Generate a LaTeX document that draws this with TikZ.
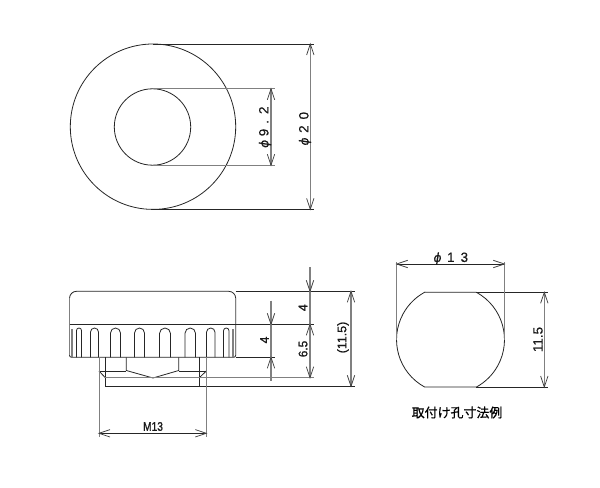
\documentclass[tikz,border=0pt]{standalone}
\usepackage{fontspec}
\setmainfont[FakeBold=0.5]{Liberation Sans}
\newfontfamily\cjk[FakeBold=0.6]{Noto Sans CJK JP}
\newfontfamily\heavy[FakeBold=1.2]{Liberation Sans}
\newfontfamily\phifont[FakeBold=0.6,FakeSlant=0.15]{DejaVu Sans}
\usetikzlibrary{arrows.meta}
\definecolor{gl}{gray}{0.5}
\tikzset{x=1bp,y=-1bp,
 edge/.style={line width=0.8bp,black!85},
 ext/.style={line width=0.8bp,gl},
 dimline/.style={line width=1.1bp,gl},
 tip/.style={line width=0.75bp,black!75},
 dimtext/.style={font=\fontsize{13.5}{13.5}\selectfont,inner sep=0pt,text=black!90},
 boldtext/.style={font=\fontsize{12.5}{12.5}\selectfont\heavy,inner sep=0pt,text=black!90},
}
\newcommand{\arrowv}[3]{\draw[tip] (#1-3.7,#2+#3*11)--(#1,#2)--(#1+3.7,#2+#3*11);}
\newcommand{\arrowh}[3]{\draw[tip] (#1+#3*11,#2-3.7)--(#1,#2)--(#1+#3*11,#2+3.7);}
\newcommand{\flute}[2]{\draw[edge] (#1,357.3)--(#1,{328+(#2-#1)/2}) arc[start angle=180,end angle=360,radius={(#2-#1)/2}]--(#2,357.3);}
\newcommand{\phisym}{{\fontsize{12.5}{12.5}\selectfont\phifont ϕ}}
\begin{document}
\begin{tikzpicture}
\useasboundingbox (0,0) rectangle (600,488);
\fill[white] (0,0) rectangle (600,488);
% top view
\draw[edge] (153,126.7) circle[radius=82.7];
\draw[edge] (152.5,127) circle[radius=38.2];
\draw[edge] (153,44)--(314,44);
\draw[edge] (153,209.3)--(314,209.3);
\draw[ext] (152.5,88.8)--(275,88.8);
\draw[ext] (152.5,165.2)--(275,165.2);
\draw[dimline] (310.3,44)--(310.3,209.3);
\draw[dimline] (271,88.8)--(271,165.2);
\arrowv{310.3}{44}{1}\arrowv{310.3}{209.3}{-1}
\arrowv{271}{88.8}{1}\arrowv{271}{165.2}{-1}
\node[dimtext,rotate=90] (d20) at (305,129) {\phisym\hspace{5bp}2\hspace{6bp}0};
\node[dimtext,rotate=90] (d92) at (265,127.5) {\phisym\hspace{4bp}9\hspace{5bp}.\hspace{6bp}2};
% side view
\draw[edge] (69.5,298.3) arc[start angle=180,end angle=270,radius=7]--(228.7,291.3) arc[start angle=-90,end angle=0,radius=7]--(235.7,355.3) arc[start angle=0,end angle=90,radius=2]--(71.5,357.3) arc[start angle=90,end angle=180,radius=2]--cycle;
\draw[ext,line width=1.2bp] (69.5,298.3)--(69.5,355);
\draw[ext,line width=1.2bp] (235.7,298.3)--(235.7,355);
\draw[edge] (69.5,324.3)--(314,324.3);
\flute{76.5}{81.5}\flute{90.5}{98.5}
\flute{110.5}{120.5}\flute{134.5}{144.5}\flute{159.5}{170.5}\flute{185}{195.5}\flute{206.5}{215}\flute{223.5}{229}
\draw[ext,line width=1.4bp] (72,329)--(72,357);
\draw[ext,line width=1.4bp] (233,329)--(233,357);
\draw[edge] (105.3,357.3)--(105.3,386.3)--(355,386.3);
\draw[edge] (199.3,357.3)--(199.3,386.3);
\draw[edge] (126.3,357.3)--(126.3,370.5)--(153,378)--(178.7,370.5)--(178.7,357.3);
\draw[edge] (99,371)--(126.3,371);
\draw[edge] (178.7,371)--(206.3,371);
\draw[edge] (99,371)--(105.3,377.7);
\draw[edge] (206.3,371)--(199.3,377.7);
\draw[ext] (105.3,377.7)--(314,377.7);
\draw[edge] (235.7,291.3)--(355,291.3);
\draw[edge] (235.7,357.3)--(275,357.3);
% M13
\draw[ext] (99,357.3)--(99,436.7);
\draw[ext] (206.3,357.3)--(206.3,436.7);
\draw[edge] (99,433.3)--(206.3,433.3);
\arrowh{99}{433.3}{1}\arrowh{206.3}{433.3}{-1}
\node[boldtext,xscale=.82] (m13) at (153,426.5) {M13};
% right dims
\draw[dimline] (271,300.7)--(271,381);
\arrowv{271}{324.3}{-1}\arrowv{271}{357.3}{1}
\draw[dimline] (310,267.3)--(310,377.7);
\arrowv{310}{291.3}{-1}\arrowv{310}{324.3}{1}\arrowv{310}{377.7}{-1}
\draw[dimline] (351,291.3)--(351,386.3);
\arrowv{351}{291.3}{1}\arrowv{351}{386.3}{-1}
\node[boldtext,rotate=90] (d4a) at (264.5,340) {4};
\node[boldtext,rotate=90] (d4b) at (303,307.7) {4};
\node[boldtext,rotate=90,xscale=.95] (d65) at (303,349) {6.5};
\node[dimtext,rotate=90,font=\fontsize{12.5}{12.5}\selectfont] (d115p) at (343,337.5) {(11.5)};
% hole
\draw[edge] (424.6,292.3)--(476.4,292.3) arc[start angle=-61.3,end angle=61.3,radius=54]--(424.6,387) arc[start angle=118.7,end angle=241.3,radius=54]--cycle;
\draw[edge] (476.4,292.3)--(547.7,292.3);
\draw[edge] (476.4,387)--(547.7,387);
\draw[ext] (396.7,262)--(396.7,339.7);
\draw[ext] (504.3,262)--(504.3,339.7);
\draw[edge] (396.7,264)--(504.3,264);
\arrowh{396.7}{264}{1}\arrowh{504.3}{264}{-1}
\draw[dimline] (544.3,292.3)--(544.3,387);
\arrowv{544.3}{292.3}{1}\arrowv{544.3}{387}{-1}
\node[dimtext] (d13) at (450.5,258.5) {\phisym\hspace{6bp}1\hspace{6bp}3};
\node[dimtext,rotate=90] (d115) at (538,339.5) {11.5};
\node[inner sep=0pt,font=\fontsize{13}{13}\selectfont\cjk] (cap) at (457,412.5) {取付け孔寸法例};
\end{tikzpicture}
\end{document}
